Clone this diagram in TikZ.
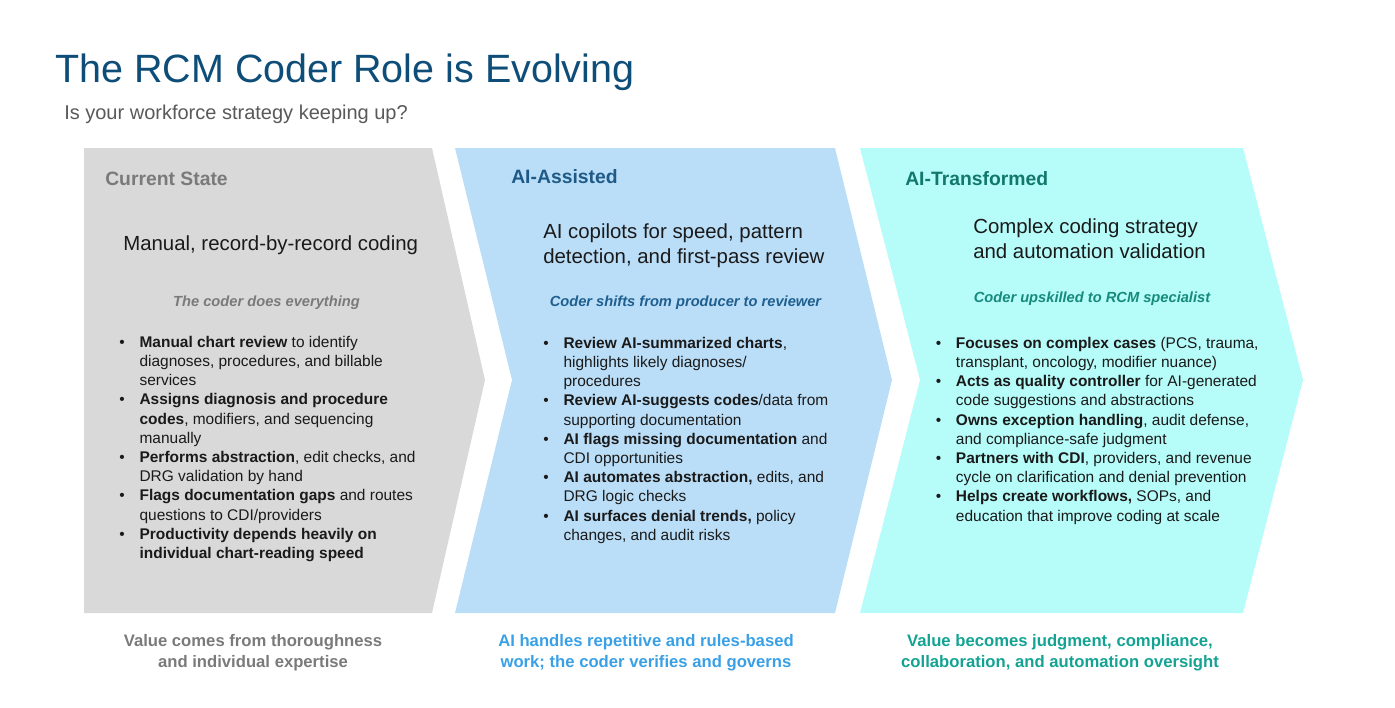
\documentclass[tikz,border=0pt]{standalone}
\usepackage{fontspec}
\setmainfont{Liberation Sans}
\definecolor{titleblue}{HTML}{0E4D78}
\definecolor{subgray}{HTML}{595959}
\definecolor{grayfill}{HTML}{D9D9D9}
\definecolor{bluefill}{HTML}{BBDEF8}
\definecolor{cyanfill}{HTML}{B6FCF9}
\definecolor{hgray}{HTML}{7A7A7A}
\definecolor{hblue}{HTML}{1E5A87}
\definecolor{hteal}{HTML}{12786E}
\definecolor{iblue}{HTML}{1F5F8F}
\definecolor{iteal}{HTML}{168A7C}
\definecolor{cblue}{HTML}{3AA0E6}
\definecolor{cteal}{HTML}{14A393}
\definecolor{bodyblack}{HTML}{1A1A1A}
\newcommand{\bul}{\llap{\makebox[15.15pt][l]{•}}}
\tikzset{
  chev/.style={draw=none},
  titletext/.style={anchor=base west, inner sep=0pt, font=\fontsize{29.6pt}{36pt}\selectfont, text=titleblue},
  subtext/.style={anchor=base west, inner sep=0pt, font=\fontsize{15pt}{18pt}\selectfont, text=subgray},
  headtext/.style={anchor=base west, inner sep=0pt, font=\fontsize{14.5pt}{17pt}\selectfont\bfseries},
  maintext/.style={anchor=base west, inner sep=0pt, font=\fontsize{15.3pt}{18.75pt}\selectfont, text=bodyblack},
  italtext/.style={anchor=base, inner sep=0pt, font=\fontsize{11pt}{14pt}\selectfont\bfseries\itshape},
  listtext/.style={anchor=base west, inner sep=0pt, font=\fontsize{11.6pt}{14.4pt}\selectfont, text=bodyblack},
  captext/.style={anchor=base, inner sep=0pt, font=\fontsize{12.5pt}{15.75pt}\selectfont\bfseries},
}
\begin{document}
\begin{tikzpicture}[x=0.75pt, y=-0.75pt]
\useasboundingbox (0,0) rectangle (1395,707);
% chevrons
\fill[grayfill] (84,148) -- (432,148) -- (485,380) -- (432,613) -- (84,613) -- cycle;
\fill[bluefill] (455,148) -- (835,148) -- (892,380) -- (835,613) -- (455,613) -- (512,380) -- cycle;
\fill[cyanfill] (860,148) -- (1243,148) -- (1303,380) -- (1243,613) -- (860,613) -- (920,380) -- cycle;
% title
\node[titletext] (title) at (55,82) {The RCM Coder Role is Evolving};
\node[subtext] (subtitle) at (64,119) {Is your workforce strategy keeping up?};
% headers
\node[headtext, text=hgray] (h1) at (105,185) {Current State};
\node[headtext, text=hblue] (h2) at (511,183.5) {AI-Assisted};
\node[headtext, text=hteal] (h3) at (905,185) {AI-Transformed};
% main statements
\node[maintext] (m1) at (123,250) {Manual, record-by-record coding};
\node[maintext] (m2) at (543,238.5) {\begin{tabular}[t]{@{}l@{}}AI copilots for speed, pattern\\ detection, and first-pass review\end{tabular}};
\node[maintext] (m3) at (973,233.5) {\begin{tabular}[t]{@{}l@{}}Complex coding strategy\\ and automation validation\end{tabular}};
% italic lines
\node[italtext, text=hgray] (i1) at (266.5,306) {The coder does everything};
\node[italtext, text=iblue] (i2) at (685.5,306) {Coder shifts from producer to reviewer};
\node[italtext, text=iteal] (i3) at (1092,302) {Coder upskilled to RCM specialist};
% lists
\node[listtext] (l1) at (139.3,347.3) {\begin{tabular}[t]{@{}l@{}}
\bul\textbf{Manual chart review} to identify\\
diagnoses, procedures, and billable\\
services\\
\bul\textbf{Assigns diagnosis and procedure}\\
\textbf{codes}, modifiers, and sequencing\\
manually\\
\bul\textbf{Performs abstraction}, edit checks, and\\
DRG validation by hand\\
\bul\textbf{Flags documentation gaps} and routes\\
questions to CDI/providers\\
\bul\textbf{Productivity depends heavily on}\\
\textbf{individual chart-reading speed}
\end{tabular}};
\node[listtext] (l2) at (563.3,348.3) {\begin{tabular}[t]{@{}l@{}}
\bul\textbf{Review AI-summarized charts},\\
highlights likely diagnoses/\\
procedures\\
\bul\textbf{Review AI-suggests codes}/data from\\
supporting documentation\\
\bul\textbf{AI flags missing documentation} and\\
CDI opportunities\\
\bul\textbf{AI automates abstraction,} edits, and\\
DRG logic checks\\
\bul\textbf{AI surfaces denial trends,} policy\\
changes, and audit risks
\end{tabular}};
\node[listtext] (l3) at (955.7,348.3) {\begin{tabular}[t]{@{}l@{}}
\bul\textbf{Focuses on complex cases} (PCS, trauma,\\
transplant, oncology, modifier nuance)\\
\bul\textbf{Acts as quality controller} for AI-generated\\
code suggestions and abstractions\\
\bul\textbf{Owns exception handling}, audit defense,\\
and compliance-safe judgment\\
\bul\textbf{Partners with CDI}, providers, and revenue\\
cycle on clarification and denial prevention\\
\bul\textbf{Helps create workflows,} SOPs, and\\
education that improve coding at scale
\end{tabular}};
% captions
\node[captext, text=hgray] (c1) at (253,646.5) {\begin{tabular}[t]{@{}c@{}}Value comes from thoroughness\\ and individual expertise\end{tabular}};
\node[captext, text=cblue] (c2) at (646,646.5) {\begin{tabular}[t]{@{}c@{}}AI handles repetitive and rules-based\\ work; the coder verifies and governs\end{tabular}};
\node[captext, text=cteal] (c3) at (1060,646.5) {\begin{tabular}[t]{@{}c@{}}Value becomes judgment, compliance,\\ collaboration, and automation oversight\end{tabular}};
\end{tikzpicture}
\end{document}
